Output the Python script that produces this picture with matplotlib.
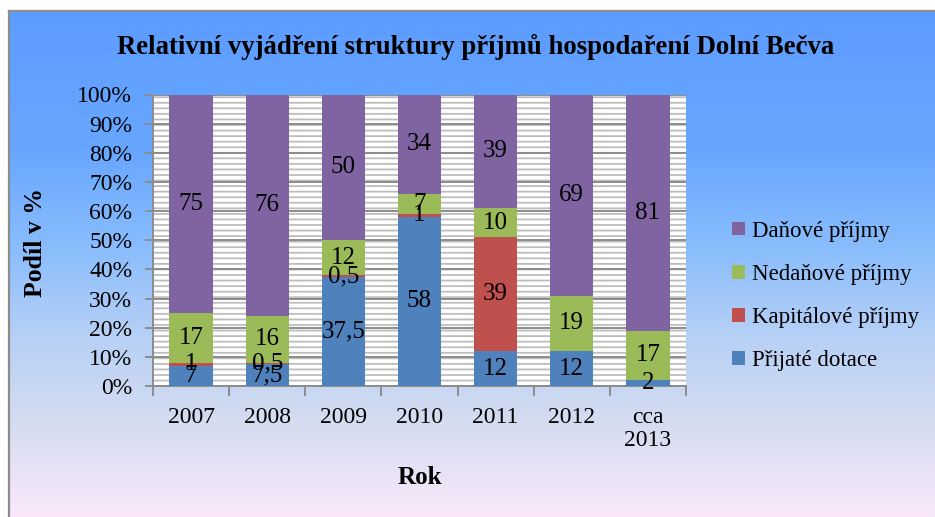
import numpy as np
import matplotlib
matplotlib.use("Agg")
import matplotlib.pyplot as plt
from matplotlib.patches import Rectangle, Patch
from matplotlib.lines import Line2D

# ---- data ----
categories = ["2007", "2008", "2009", "2010", "2011", "2012", "cca\n2013"]
prijate_dotace = [7, 7.5, 37.5, 58, 12, 12, 2]
kapitalove = [1, 0.5, 0.5, 1, 39, 0, 0]
nedanove = [17, 16, 12, 7, 10, 19, 17]
danove = [75, 76, 50, 34, 39, 69, 81]
series_names = ["Přijaté dotace", "Kapitálové příjmy", "Nedaňové příjmy", "Daňové příjmy"]
series_values = [prijate_dotace, kapitalove, nedanove, danove]
colors = ["#4F81BD", "#C0504D", "#9BBB59", "#8064A2"]
yticks = [0, 10, 20, 30, 40, 50, 60, 70, 80, 90, 100]

def fmt(v):
    s = ("%g" % v)
    return s.replace(".", ",")

plt.rcParams["font.family"] = ["Liberation Serif", "DejaVu Serif"]
plt.rcParams["hatch.linewidth"] = 1.3

W, H = 935, 517
fig = plt.figure(figsize=(W / 100, H / 100), dpi=100, facecolor="white")

# ---- background gradient ----
bg = fig.add_axes([8 / W, 0, 1 - 8 / W, (H - 11) / H], zorder=-10)
stops_y = np.array([11, 150, 250, 330, 420, 517])
stops_c = np.array([
    [92, 156, 255],
    [104, 167, 255],
    [138, 189, 252],
    [180, 207, 246],
    [212, 220, 240],
    [250, 232, 250],
]) / 255.0
ys = np.linspace(11, 517, 300)
grad = np.stack([np.interp(ys, stops_y, stops_c[:, k]) for k in range(3)], axis=-1)
grad = np.repeat(grad[:, None, :], 2, axis=1)
bg.imshow(grad, aspect="auto", extent=[0, 1, 0, 1], origin="upper")
bg.set_axis_off()
# frame lines
fig.add_artist(Line2D([9 / W, 9 / W], [0, 1 - 11 / H], transform=fig.transFigure,
                      color="#8C8C8C", lw=1.6, zorder=-5))
fig.add_artist(Line2D([9 / W, 1], [1 - 11 / H, 1 - 11 / H], transform=fig.transFigure,
                      color="#8C8C8C", lw=1.6, zorder=-5))

# ---- main axes ----
ax = fig.add_axes([153 / W, 1 - 386 / H, (686 - 153) / W, (386 - 94.5) / H])
ax.set_facecolor("white")
ax.add_patch(Rectangle((0, 0), 1, 1, transform=ax.transAxes, facecolor="white",
                       edgecolor="#BDBDBD", linewidth=0, hatch="---", zorder=0))
x = np.arange(len(categories))
bottom = np.zeros(len(categories))
width = 0.57
for name, vals, c in zip(series_names, series_values, colors):
    vals = np.array(vals, dtype=float)
    ax.bar(x, vals, width, bottom=bottom, color=c, label=name, zorder=3, linewidth=0)
    for xi, b, v in zip(x, bottom, vals):
        if v > 0:
            ax.text(xi, b + v / 2, fmt(v), ha="center", va="center", fontsize=18,
                    color="black", zorder=5)
    bottom += vals

ax.set_xlim(-0.5, len(categories) - 0.5)
ax.set_ylim(0, 100)
ax.set_yticks(yticks)
ax.set_yticklabels(["%d%%" % t for t in yticks], fontsize=17)
ax.yaxis.grid(True, color="#8C8C8C", linewidth=1.4, zorder=1)
ax.set_axisbelow(True)
ax.set_xticks(x)
ax.set_xticklabels(categories, fontsize=17, linespacing=1.12)
ax.set_xticks(np.arange(-0.5, len(categories)), minor=True)
ax.tick_params(axis="x", which="major", length=0, pad=15)
ax.tick_params(axis="x", which="minor", length=7, width=1.4, color="#8C8C8C")
ax.tick_params(axis="y", length=6, width=1.4, color="#8C8C8C", pad=9)
for s in ["top", "right"]:
    ax.spines[s].set_visible(False)
for s in ["left", "bottom"]:
    ax.spines[s].set_color("#8C8C8C")
    ax.spines[s].set_linewidth(1.4)

# ---- texts ----
fig.text(476 / W, 1 - 47 / H, "Relativní vyjádření struktury příjmů hospodaření Dolní Bečva",
         ha="center", va="center", fontsize=19.3, fontweight="bold")
fig.text(36 / W, 1 - 243 / H, "Podíl v %", rotation=90, ha="center", va="center",
         fontsize=18.5, fontweight="bold")
fig.text(420 / W, 1 - 478 / H, "Rok", ha="center", va="center", fontsize=18,
         fontweight="bold")

# ---- legend ----
handles = [Patch(facecolor=c, edgecolor="none") for c in colors][::-1]
labels = series_names[::-1]
fig.legend(handles, labels, loc="center left", bbox_to_anchor=(723 / W, 1 - 296 / H),
           frameon=False, fontsize=16.5, labelspacing=0.97, handlelength=0.55,
           handleheight=0.55, handletextpad=0.3, borderaxespad=0)

fig.savefig("out.png", dpi=100, facecolor="white")
